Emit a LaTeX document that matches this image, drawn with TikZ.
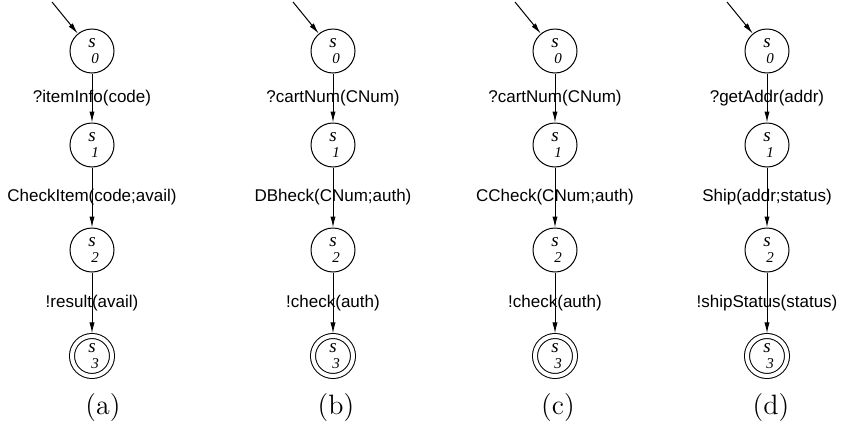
\documentclass[tikz,border=0pt]{standalone}
\usepackage{fontspec}
\newfontfamily\lblfont{Liberation Sans}
\newfontfamily\stfont{Liberation Serif}
\usetikzlibrary{arrows.meta}
\newcommand{\stlab}[1]{\textit{s}\\[-3pt]\hspace*{3pt}{\fontsize{7.5}{8}\selectfont\textit{#1}}}

\begin{document}
\begin{tikzpicture}[x=0.5pt,y=-0.5pt,
  stnode/.style={circle,draw,line width=0.5pt,minimum size=22pt,inner sep=0pt,
    align=center,font=\stfont\fontsize{9.5}{11}\selectfont},
  finnode/.style={stnode,minimum size=20pt,double,double distance=2pt,outer sep=1.3pt},
  tr/.style={-{Latex[length=5.5pt,width=2.6pt]},line width=0.5pt},
  lbl/.style={font=\lblfont\fontsize{8.5}{10}\selectfont,inner sep=1pt},
  capnode/.style={font=\fontsize{14}{16}\selectfont}]

\useasboundingbox (0,0) rectangle (841,429);

% (a)
\node[stnode] (a0) at (92,51) {\stlab{0}};
\node[stnode] (a1) at (92,145) {\stlab{1}};
\node[stnode] (a2) at (92,250) {\stlab{2}};
\node[finnode] (a3) at (92,356) {\stlab{3}};
\coordinate (ain) at (52,2);

\draw[tr] (ain) -- (a0);
\draw[tr] (a0) -- node[lbl] {?itemInfo(code)} (a1);
\draw[tr] (a1) -- node[lbl] {CheckItem(code;avail)} (a2);
\draw[tr] (a2) -- node[lbl] {!result(avail)} (a3);

\node[capnode] (capa) at (103,408) {(a)};

% (b)
\node[stnode] (b0) at (333,51) {\stlab{0}};
\node[stnode] (b1) at (333,145) {\stlab{1}};
\node[stnode] (b2) at (333,250) {\stlab{2}};
\node[finnode] (b3) at (333,356) {\stlab{3}};
\coordinate (bin) at (293,2);

\draw[tr] (bin) -- (b0);
\draw[tr] (b0) -- node[lbl] {?cartNum(CNum)} (b1);
\draw[tr] (b1) -- node[lbl] {DBheck(CNum;auth)} (b2);
\draw[tr] (b2) -- node[lbl] {!check(auth)} (b3);

\node[capnode] (capb) at (336,408) {(b)};

% (c)
\node[stnode] (c0) at (555,51) {\stlab{0}};
\node[stnode] (c1) at (555,145) {\stlab{1}};
\node[stnode] (c2) at (555,250) {\stlab{2}};
\node[finnode] (c3) at (555,356) {\stlab{3}};
\coordinate (cin) at (515,2);

\draw[tr] (cin) -- (c0);
\draw[tr] (c0) -- node[lbl] {?cartNum(CNum)} (c1);
\draw[tr] (c1) -- node[lbl] {CCheck(CNum;auth)} (c2);
\draw[tr] (c2) -- node[lbl] {!check(auth)} (c3);

\node[capnode] (capc) at (558,408) {(c)};

% (d)
\node[stnode] (d0) at (767,51) {\stlab{0}};
\node[stnode] (d1) at (767,145) {\stlab{1}};
\node[stnode] (d2) at (767,250) {\stlab{2}};
\node[finnode] (d3) at (767,356) {\stlab{3}};
\coordinate (din) at (727,2);

\draw[tr] (din) -- (d0);
\draw[tr] (d0) -- node[lbl] {?getAddr(addr)} (d1);
\draw[tr] (d1) -- node[lbl] {Ship(addr;status)} (d2);
\draw[tr] (d2) -- node[lbl] {!shipStatus(status)} (d3);

\node[capnode] (capd) at (771,408) {(d)};

\end{tikzpicture}
\end{document}
